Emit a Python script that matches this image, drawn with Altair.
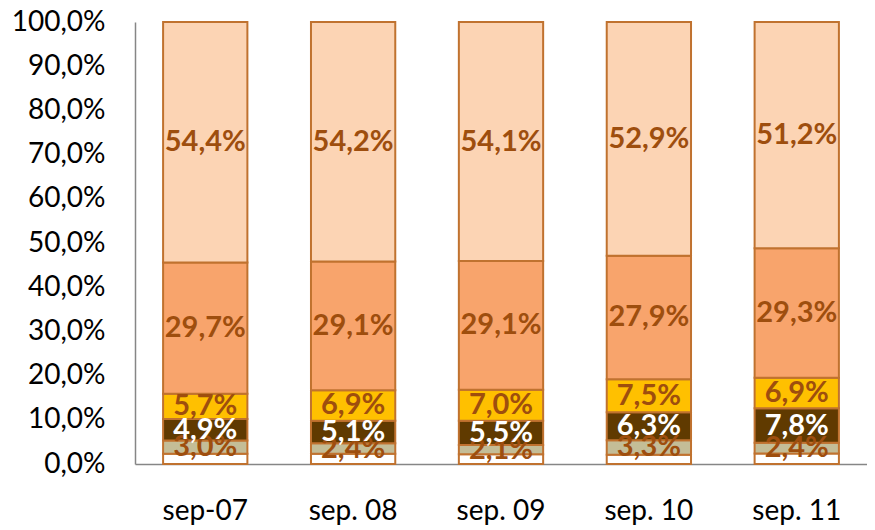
import altair as alt
import pandas as pd

periods = ["sep-07", "sep. 08", "sep. 09", "sep. 10", "sep. 11"]
series = ["s0", "s1", "s2", "s3", "s4", "s5"]  # bottom to top
s0 = [2.3, 2.3, 2.2, 2.1, 2.4]       # white (unlabelled)
s1 = [3.0, 2.4, 2.1, 3.3, 2.4]       # tan
s2 = [4.9, 5.1, 5.5, 6.3, 7.8]       # dark brown
s3 = [5.7, 6.9, 7.0, 7.5, 6.9]       # gold
s4 = [29.7, 29.1, 29.1, 27.9, 29.3]  # orange
s5 = [54.4, 54.2, 54.1, 52.9, 51.2]  # peach
colors = ["#FFFFFF", "#C4BD97", "#603A00", "#FFC000", "#F8A46C", "#FCD4B4"]
label_colors = ["#9E4E0E", "#9E4E0E", "#FFFFFF", "#9E4E0E", "#9E4E0E", "#9E4E0E"]

vals = [s0, s1, s2, s3, s4, s5]
rows = []
for si, name in enumerate(series):
    for pi, p in enumerate(periods):
        v = vals[si][pi]
        rows.append({
            "period": p, "series": name, "order": si, "value": v,
            "label": ("" if si == 0 else f"{v:.1f}".replace(".", ",") + "%"),
            "lc": label_colors[si],
        })
df = pd.DataFrame(rows)

FONT = "Lato"

x_axis = alt.Axis(labelAngle=0, labelFontSize=28, labelFont=FONT, labelColor="#000000",
                  labelPadding=33, ticks=False, grid=False,
                  domainColor="#868686", domainWidth=1.5)
y_axis = alt.Axis(values=list(range(0, 101, 10)), grid=False, ticks=False,
                  labelFontSize=28, labelFont=FONT, labelColor="#000000",
                  labelPadding=30, domainColor="#868686", domainWidth=1.5,
                  labelExpr="replace(format(datum.value, '.1f'), '.', ',') + '%'")

bars = alt.Chart(df).mark_bar(stroke="#C0722F", strokeWidth=2).encode(
    x=alt.X("period:N", sort=periods, title=None,
            scale=alt.Scale(paddingInner=0.43, paddingOuter=0.19), axis=x_axis),
    y=alt.Y("value:Q", stack="zero", title=None,
            scale=alt.Scale(domain=[0, 100], nice=False), axis=y_axis),
    color=alt.Color("series:N", scale=alt.Scale(domain=series, range=colors), legend=None),
    order=alt.Order("order:Q"),
)

texts = alt.Chart(df).transform_stack(
    stack="value", groupby=["period"], as_=["y0", "y1"],
    sort=[alt.SortField("order", order="ascending")],
).transform_calculate(
    mid="(datum.y0 + datum.y1) / 2"
).mark_text(fontSize=29, fontWeight="bold", font=FONT, baseline="middle").encode(
    x=alt.X("period:N", sort=periods, title=None, axis=x_axis),
    y=alt.Y("mid:Q", title=None, axis=y_axis),
    text="label:N",
    color=alt.Color("lc:N", scale=None),
)

chart = alt.layer(bars, texts).properties(
    width=732, height=442,
    background="#FFFFFF",
    autosize=alt.AutoSizeParams(type="none"),
    padding={"left": 127, "top": 14, "right": 0, "bottom": 66},
).configure_view(strokeWidth=0).configure_axis(grid=False)

chart.save("out.html", embed_options={"renderer": "svg", "actions": False})
